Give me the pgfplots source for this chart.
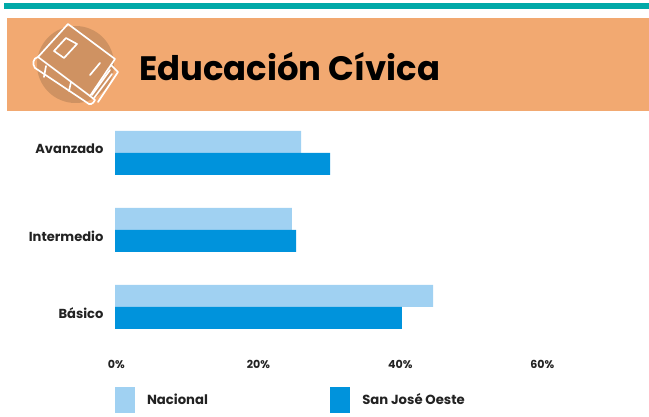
\documentclass[border=0pt]{standalone}
\usepackage{pgfplots}
\pgfplotsset{compat=1.18}
\usepackage{fontspec}
\setmainfont{Poppins}
\definecolor{teal1}{HTML}{00A9A8}
\definecolor{orange1}{HTML}{F2A971}
\definecolor{circ1}{HTML}{CF9262}
\definecolor{nac}{HTML}{A0D1F2}
\definecolor{sjo}{HTML}{0093DC}
\definecolor{txt}{HTML}{222222}
\begin{document}
\begin{tikzpicture}
\begin{scope}[x=0.75pt,y=-0.75pt]
\path[use as bounding box] (0,0) rectangle (649,417);
\fill[teal1] (4,3) rectangle (649,9);
\fill[orange1] (7,18) rectangle (649,111);
\fill[circ1] (75.5,64.5) circle (38.5);
\begin{scope}[draw=white,line width=1.25pt,line join=round,line cap=round]
\draw (68,24) -- (115,59) -- (90,96) -- (38,57) -- cycle;
\draw (38,57) .. controls (33,58) and (32,64) .. (35,68) -- (86,102) .. controls (90,106) and (93,104) .. (95,100) -- (90,96);
\draw (66,38) -- (77,44) -- (64,58) -- (54,51) -- cycle;
\draw (90,75) -- (100,63);
\draw (46,66) -- (44,77);
\draw (71,82) -- (69,91);
\draw (111,65) -- (118,72) -- (98,102);
\draw (110,70) -- (92,95);
\draw (112,74) -- (94,98);
\end{scope}
\node[anchor=west,inner sep=0pt,font=\fontsize{25.4pt}{30pt}\selectfont\bfseries,text=black] at (139,67) {Educación Cívica};
\end{scope}
\begin{axis}[
  at={(86.25pt,-259.1pt)},anchor=south west,
  scale only axis,width=383.4pt,height=173.25pt,
  xmin=0,xmax=72,ymin=-0.5,ymax=2.5,
  axis line style={draw=none},
  tick style={draw=none},
  xtick={0,20,40,60},
  xticklabels={0\%,20\%,40\%,60\%},
  ytick={0,1,2},
  yticklabels={\raisebox{-8.75pt}[0pt][0pt]{Básico},\raisebox{-8.75pt}[0pt][0pt]{Intermedio},\raisebox{-0.5pt}[0pt][0pt]{Avanzado}},
  x tick label style={font=\fontsize{8.3pt}{10pt}\selectfont\bfseries,text=txt,xshift=1pt,yshift=-7.25pt},
  y tick label style={font=\fontsize{9.8pt}{12pt}\selectfont\bfseries,text=txt,xshift=-0.9pt},
  xbar,
  legend style={at={(0,-0.181)},anchor=north west,draw=none,fill=none,inner sep=0pt,outer sep=0pt,
    /tikz/every even column/.style={column sep=0pt},
    font=\fontsize{9.9pt}{11pt}\selectfont\bfseries,text=txt,
    legend columns=2,nodes={inner sep=0pt,outer sep=0pt}},
  legend cell align=left,
  legend image code/.code={\fill[#1,draw=none] (0,-9.75pt) rectangle (15pt,9.75pt);\path (24pt,0);},
]
\addplot[xbar,fill=nac,draw=none,bar width=16.5pt,bar shift=8.25pt] coordinates {(44.8,0) (24.9,1) (26.2,2)};
\addlegendentry{\makebox[137.5pt][l]{Nacional}}
\addplot[xbar,fill=sjo,draw=none,bar width=16.5pt,bar shift=-8.25pt] coordinates {(40.4,0) (25.5,1) (30.3,2)};
\addlegendentry{San José Oeste}
\end{axis}
\end{tikzpicture}
\end{document}
